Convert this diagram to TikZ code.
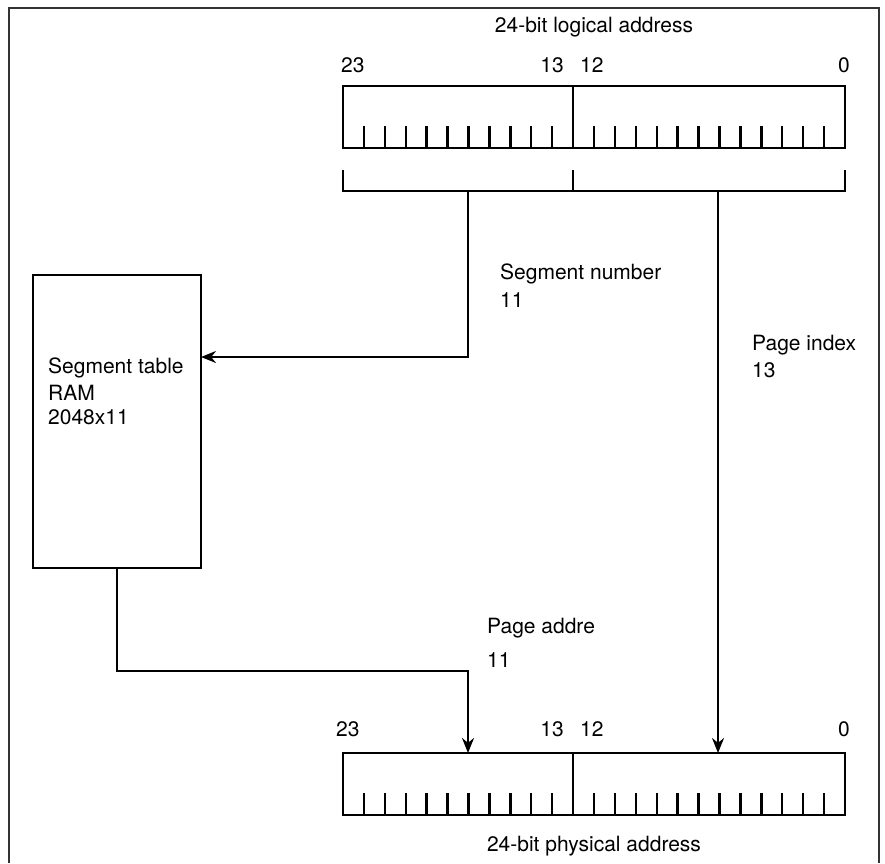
\documentclass[tikz,border=0pt]{standalone}
\usepackage{fontspec}
\setmainfont{TeX Gyre Heros}
\usetikzlibrary{arrows.meta}
\begin{document}
\begin{tikzpicture}[x=1pt,y=-1pt,
  regbox/.style={draw, line width=2.8pt, minimum width=502pt, minimum height=62pt, inner sep=0pt, outer sep=0pt},
  tablebox/.style={draw, line width=2.6pt, minimum width=168pt, minimum height=293pt, inner sep=0pt, outer sep=0pt},
  conn/.style={line width=2.2pt, -{Stealth[length=15pt,width=12pt]}},
  lbl/.style={font=\fontsize{21}{25}\selectfont, inner sep=0pt, anchor=west},
  clbl/.style={font=\fontsize{21}{25}\selectfont, inner sep=0pt},
  rlbl/.style={font=\fontsize{21}{25}\selectfont, inner sep=0pt, anchor=east},
  tickline/.style={line width=2.4pt},
  frameline/.style={line width=1.6pt, black!80}]
\useasboundingbox (0,0) rectangle (885,863);
% frame
\draw[frameline] (9,863) -- (9,8) -- (879,8) -- (879,863);
% logical address register
\node[regbox] (la) at (594,117) {};
\foreach \i in {1,...,10,12,13,...,23}
  \draw[tickline] ([xshift={\i*20.9167pt}]la.south west) -- ++(0,-22);
\draw[tickline] ([xshift={11*20.9167pt}]la.south west) -- ([xshift={11*20.9167pt}]la.north west);
% bracket
\draw[tickline] (343,170) -- (343,191) -- (845,191) -- (845,170);
\draw[tickline] (573,170) -- (573,191);
% labels top
\node[clbl] (ltitle) at (594,27) {24-bit logical address};
\node[lbl] (l23) at (341,65) {23};
\node[rlbl] (l13) at (564,65) {13};
\node[lbl] (l12) at (580,65) {12};
\node[rlbl] (l0) at (850,65) {0};
% segment table
\node[tablebox] (seg) at (117,421.5) {};
\node[lbl] (st1) at (48,368) {Segment table};
\node[lbl] (st2) at (48,393) {RAM};
\node[lbl] (st3) at (48,417) {2048x11};
% physical address register
\node[regbox] (pa) at (594,784) {};
\foreach \i in {1,...,10,12,13,...,23}
  \draw[tickline] ([xshift={\i*20.9167pt}]pa.south west) -- ++(0,-22);
\draw[tickline] ([xshift={11*20.9167pt}]pa.south west) -- ([xshift={11*20.9167pt}]pa.north west);
\node[lbl] (p23) at (336,729) {23};
\node[rlbl] (p13) at (564,729) {13};
\node[lbl] (p12) at (580,729) {12};
\node[rlbl] (p0) at (850,729) {0};
\node[clbl] (ptitle) at (594,846) {24-bit physical address};
% connectors
\coordinate (segtap) at (468,191);
\coordinate (pgtap) at (718,191);
\coordinate (segin) at (201,357);
\coordinate (pabend) at (468,671);
\draw[conn] (segtap) |- (segin);
\draw[conn] (pgtap) -- (pgtap |- pa.north);
\draw[conn] (seg.south) |- (pabend) -- (pabend |- pa.north);
% connector labels
\node[lbl] (sn1) at (500,274) {Segment number};
\node[lbl] (sn2) at (500,300) {11};
\node[lbl] (pi1) at (752,345) {Page index};
\node[lbl] (pi2) at (752,370) {13};
\node[lbl] (pd1) at (487,628) {Page addre};
\node[lbl] (pd2) at (487,660) {11};
\end{tikzpicture}
\end{document}
